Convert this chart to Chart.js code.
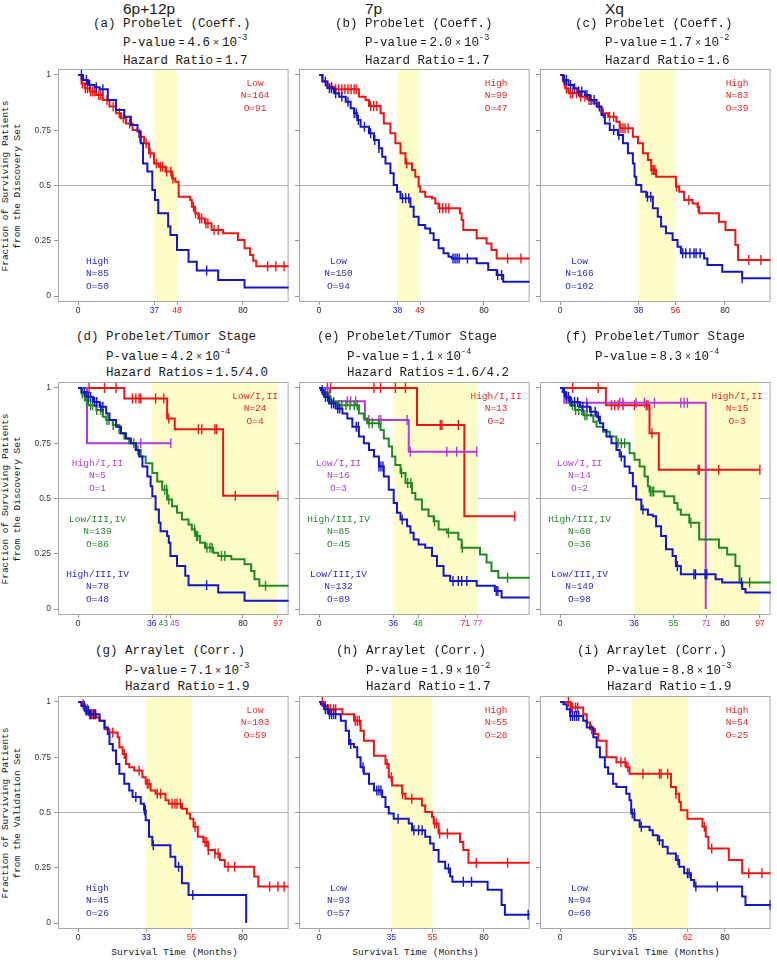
<!DOCTYPE html>
<html><head><meta charset="utf-8">
<script src="https://cdn.jsdelivr.net/npm/chart.js@4.4.1/dist/chart.umd.min.js"></script>
<style>
html,body{margin:0;padding:0;background:#fff}
#root{position:relative;width:777px;height:960px;overflow:hidden;font-family:"Liberation Mono","DejaVu Sans Mono",monospace;color:#1a1a1a}
.t{position:absolute;white-space:nowrap;font-size:12.5px;line-height:13px}
.hd{position:absolute;white-space:nowrap;font-family:"Liberation Sans",Arial,sans-serif;font-size:15.5px;line-height:16px}
.eq{font-size:10px;margin:0 3px}
.t sup{font-size:8.5px;vertical-align:baseline;position:relative;top:-6px;line-height:0}
.yt{position:absolute;font-size:9.5px;line-height:12px;text-align:center;white-space:nowrap;transform:translate(-50%,-50%) rotate(-90deg)}
.xt{position:absolute;font-size:9.6px;line-height:12px;white-space:nowrap;transform:translateX(-50%)}
canvas{position:absolute}
</style></head><body><div id="root"></div>
<script>
// ================= DATA =================
const colHeaders = ['6p+12p', '7p', 'Xq'];
const yTickValues = [0, 0.25, 0.5, 0.75, 1];
const yTickLabels = ['0', '0.25', '0.5', '0.75', '1'];

// (a) 6p+12p probelet
const aTitle = '(a) Probelet (Coeff.)';
const aPValue = ['4.6', '-3']; const aHazard = '1.7';
const aBand = [37, 48]; const aTicks = [0, 37, 48, 80];
const aLow = [[0,1],[1.6,0.962],[3.2,0.94],[5.6,0.925],[8.8,0.91],[12,0.887],[15.2,0.857],[18.4,0.827],[20.8,0.804],[23.2,0.781],[26.4,0.751],[29.6,0.721],[32,0.691],[34.4,0.646],[36.8,0.6],[39.2,0.585],[42.4,0.563],[45.6,0.532],[47.2,0.517],[48.8,0.449],[54.4,0.434],[55.2,0.404],[56.8,0.374],[58.4,0.351],[61.6,0.329],[64.8,0.299],[70.4,0.284],[77.6,0.253],[80.8,0.216],[83.5,0.185],[85,0.16],[86.5,0.135],[104,0.135]];
const aLowCens = [2,3.5,4.5,6,7,8,10,11,14,17,20,22,25,30,33,35,38,40,41,43,45,46,56,57,59,60,62,63,66,68,92,96,100];
const aLowLabel = ['Low','N=164','O=91'];
const aHigh = [[0,1],[2.4,0.977],[4.8,0.955],[8,0.944],[10.4,0.935],[14.4,0.887],[18.4,0.842],[22.4,0.811],[25.6,0.774],[28.8,0.744],[30.4,0.691],[31.5,0.6],[33.6,0.563],[36,0.48],[37.3,0.434],[38.9,0.374],[43.7,0.314],[44.8,0.276],[48,0.208],[53.6,0.155],[57.6,0.115],[68,0.072],[80.8,0.039],[104,0.039]];
const aHighCens = [1.6,4,5.6,8.8,12,62.4];
const aHighLabel = ['High','N=85','O=50'];

// (b) 7p probelet
const bTitle = '(b) Probelet (Coeff.)';
const bPValue = ['2.0', '-3']; const bHazard = '1.7';
const bBand = [38, 49]; const bTicks = [0, 38, 49, 80];
const bHigh = [[0,1],[1.6,0.97],[4,0.947],[7.2,0.935],[19.3,0.902],[22.5,0.887],[24.2,0.86],[29.8,0.827],[31.4,0.781],[34.6,0.736],[37,0.691],[39.5,0.646],[41.9,0.6],[45.1,0.57],[46.7,0.54],[48.3,0.495],[49.1,0.472],[51.5,0.449],[54.8,0.442],[56.4,0.419],[58,0.397],[68.4,0.374],[69.2,0.344],[70,0.299],[76.5,0.261],[81.3,0.238],[83.7,0.208],[86.2,0.17],[104,0.17]];
const bHighCens = [6,8,9.5,11,12.5,14,15.5,17,18,25,26.5,28,42.5,58.5,60,61.5,63,91.5,98];
const bHighLabel = ['High','N=99','O=47'];
const bLow = [[0,1],[1.6,0.97],[4,0.94],[7.2,0.917],[9.7,0.902],[12.9,0.879],[15.3,0.849],[16.9,0.827],[18.5,0.796],[20.1,0.766],[24.2,0.736],[26.6,0.706],[29,0.668],[30.6,0.63],[32.2,0.6],[34.6,0.555],[36.2,0.502],[37.8,0.472],[39.5,0.442],[44.3,0.404],[45.9,0.359],[48.3,0.321],[51.5,0.306],[53.9,0.284],[55.6,0.253],[58,0.216],[60.4,0.193],[62.8,0.178],[64.4,0.17],[76.5,0.148],[82.1,0.118],[86.2,0.095],[89.4,0.065],[104,0.065]];
const bLowCens = [3,5,6,8,11,14,17,18,19,22,25,27,29,40.5,42,43.5,65,66,67,68,72,86.7,88.6];
const bLowLabel = ['Low','N=150','O=94'];

// (c) Xq probelet
const cTitle = '(c) Probelet (Coeff.)';
const cPValue = ['1.7', '-2']; const cHazard = '1.6';
const cBand = [38, 56]; const cTicks = [0, 38, 56, 80];
const cHigh = [[0,1],[1.3,0.97],[2.4,0.94],[4,0.917],[9.6,0.902],[13.7,0.887],[16.1,0.872],[18.5,0.854],[20.1,0.827],[23.3,0.811],[27.3,0.789],[28.9,0.759],[35.3,0.721],[37.8,0.691],[40.2,0.646],[42.6,0.615],[44.2,0.57],[46.6,0.54],[56.2,0.495],[57.8,0.472],[60.2,0.434],[64.3,0.419],[66.7,0.404],[67.5,0.374],[77.1,0.336],[80.3,0.299],[85.1,0.231],[86.4,0.163],[104,0.163]];
const cHighCens = [2,3,5,6,8,10,12,14,20.9,24,26,29.5,30.5,31.5,33,44.6,45.4,46,56.5,62.5,67,91.6,97.5];
const cHighLabel = ['High','N=83','O=39'];
const cLow = [[0,1],[1.6,0.977],[4,0.955],[6.4,0.94],[8.8,0.925],[12,0.91],[14.5,0.887],[17.7,0.857],[20.1,0.819],[21.7,0.781],[24.1,0.751],[28.1,0.729],[30.5,0.691],[32.9,0.646],[35.3,0.6],[36.1,0.54],[36.9,0.502],[39.4,0.472],[41.8,0.449],[45,0.397],[47.4,0.359],[49,0.314],[51.4,0.284],[54.6,0.253],[57,0.223],[58.6,0.193],[69.9,0.17],[71.5,0.14],[78.7,0.11],[88.4,0.08],[104,0.08]];
const cLowCens = [2,3,5,7,9,10.5,13,15,16.5,19,26,28.5,42.4,44,59.5,61,63,65,66,68,88.4];
const cLowLabel = ['Low','N=166','O=102'];

// (d) 6p+12p probelet / tumor stage
const dTitle = '(d) Probelet/Tumor Stage';
const dPValue = ['4.2', '-4']; const dHazard = '1.5/4.0';
const dBand = [36, 97]; const dTicks = [0, 36, 43, 45, 80, 97];
const dLowEarly = [[0,1],[22.4,0.952],[43.2,0.862],[46.9,0.813],[70.4,0.513],[97,0.513]];
const dLowEarlyCens = [5.3,12.8,18.4,26.4,28,29.6,30.4,37.6,41.6,44,58.4,60,66.4,67.2,76.3,97];
const dLowEarlyLabel = ['Low/I,II','N=24','O=4'];
const dHighEarly = [[0,1],[4.3,0.75],[45,0.75]];
const dHighEarlyCens = [30.4,45];
const dHighEarlyLabel = ['High/I,II','N=5','O=1'];
const dLowLate = [[0,1],[1.6,0.975],[3.2,0.945],[4.8,0.922],[8.8,0.9],[12,0.87],[13.6,0.855],[16.8,0.832],[20,0.795],[22.4,0.772],[24.8,0.75],[28,0.72],[30.4,0.69],[32.8,0.66],[36,0.615],[38.4,0.577],[40.8,0.54],[43.2,0.495],[45.6,0.465],[48,0.435],[50.4,0.405],[53.6,0.382],[55.2,0.36],[56.8,0.33],[59.2,0.3],[61.6,0.277],[65.6,0.255],[68,0.24],[74.4,0.225],[80.8,0.202],[84,0.172],[85.6,0.135],[88,0.105],[104,0.105]];
const dLowLateCens = [2,4,6,7,9,11,14,15,17,27,29,42,43,44,56.5,57.5,58,62.5,64,65,69.6,71.2,91];
const dLowLateLabel = ['Low/III,IV','N=139','O=86'];
const dHighLate = [[0,1],[1.6,0.982],[4,0.96],[7.2,0.937],[10.4,0.915],[13.6,0.885],[15.2,0.855],[18.4,0.825],[20.8,0.795],[23.2,0.772],[25.6,0.75],[28,0.72],[29.6,0.69],[31.2,0.645],[33.6,0.6],[35.2,0.555],[36,0.51],[37.6,0.45],[39.2,0.39],[40,0.352],[43.2,0.33],[44,0.3],[44.8,0.24],[48,0.195],[52,0.15],[53.6,0.108],[68,0.075],[80.8,0.037],[104,0.037]];
const dHighLateCens = [3,5,6,8,9,11,12,62.4];
const dHighLateLabel = ['High/III,IV','N=78','O=48'];

// (e) 7p probelet / tumor stage
const eTitle = '(e) Probelet/Tumor Stage';
const ePValue = ['1.1', '-4']; const eHazard = '1.6/4.2';
const eBand = [36, 77]; const eTicks = [0, 36, 48, 71, 77];
const eHighEarly = [[0,1],[47.5,0.832],[70.5,0.42],[95,0.42]];
const eHighEarlyCens = [4,5.6,26.6,29.8,37,41.9,58.8,59.6,67.6,95];
const eHighEarlyLabel = ['High/I,II','N=13','O=2'];
const eLowEarly = [[0,1],[5,0.94],[22.2,0.855],[43.5,0.712],[76.5,0.712]];
const eLowEarlyCens = [13.7,15.3,17.7,24,29,30,42.7,44.3,62,66.8,76.5];
const eLowEarlyLabel = ['Low/I,II','N=16','O=3'];
const eHighLate = [[0,1],[1.3,0.982],[3.2,0.96],[5.6,0.937],[8.9,0.922],[19.3,0.885],[21.7,0.862],[23.3,0.84],[29.8,0.81],[31.4,0.772],[33.8,0.735],[35.4,0.69],[37,0.652],[39.5,0.615],[41.9,0.57],[45.1,0.525],[46.7,0.495],[49.9,0.45],[53.1,0.42],[55.6,0.397],[58,0.36],[62,0.345],[67.6,0.315],[69.2,0.277],[78.1,0.247],[81.3,0.21],[83.7,0.172],[87,0.142],[104,0.142]];
const eHighLateCens = [3,4.5,7,9.5,11,13,15,17,18.5,24.2,25.8,29,40,43,44.5,56,62.8,69.5,91.5];
const eHighLateLabel = ['High/III,IV','N=85','O=45'];
const eLowLate = [[0,1],[0.8,0.99],[2.4,0.96],[4.8,0.93],[8,0.907],[11.3,0.885],[13.7,0.862],[16.1,0.825],[19.3,0.78],[21.7,0.75],[24.2,0.72],[26.6,0.69],[29,0.645],[31.4,0.6],[33.8,0.54],[36.2,0.48],[37.8,0.435],[39.5,0.405],[42.7,0.375],[44.3,0.345],[45.9,0.315],[48.3,0.292],[51.5,0.277],[54.8,0.24],[57.2,0.195],[60.4,0.15],[63.6,0.127],[76.5,0.105],[85.3,0.082],[88.6,0.052],[104,0.052]];
const eLowLateCens = [1.5,3,4,6,7,9,10,18,19,29,30,31,40.3,65,67.6,69.2,71.7,86,86.8];
const eLowLateLabel = ['Low/III,IV','N=132','O=89'];

// (f) Xq probelet / tumor stage
const fTitle = '(f) Probelet/Tumor Stage';
const fPValue = ['8.3', '-4'];
const fBand = [36, 97]; const fTicks = [0, 36, 55, 71, 80, 97];
const fHighEarly = [[0,1],[22.2,0.922],[43.4,0.795],[47.9,0.63],[97,0.63]];
const fHighEarlyCens = [6.1,18.5,24.9,26.5,28.1,30.5,36.1,41.8,42.6,44.6,67,67.6,77,97];
const fHighEarlyLabel = ['High/I,II','N=15','O=3'];
const fLowEarly = [[0,1],[2,0.933],[70.7,0]];
const fLowEarlyCens = [12.9,28.9,30.5,36.9,40.9,45.8,58.6,60.2,61.8];
const fLowEarlyLabel = ['Low/I,II','N=14','O=2'];
const fHighLate = [[0,1],[1.3,0.982],[2.9,0.952],[4.8,0.922],[7.2,0.9],[11.2,0.877],[16.1,0.847],[17.7,0.825],[20.9,0.802],[24.1,0.78],[27.3,0.75],[33.7,0.705],[36.1,0.675],[38.6,0.645],[41,0.6],[42.6,0.555],[43.4,0.532],[50.6,0.51],[55.4,0.48],[57,0.45],[58.6,0.427],[62.7,0.39],[67.5,0.315],[77.1,0.277],[81.1,0.247],[85.1,0.195],[87.1,0.12],[104,0.12]];
const fHighLateCens = [4,6,7.5,9,10.5,12,13,28.1,29.7,31.3,43.8,44.6,45.4,63.5,92];
const fHighLateLabel = ['High/III,IV','N=68','O=36'];
const fLowLate = [[0,1],[1.3,0.982],[2.4,0.96],[4.8,0.937],[9.6,0.915],[14.5,0.892],[17.7,0.87],[19.3,0.84],[20.9,0.81],[22.5,0.78],[24.9,0.75],[27.3,0.72],[28.9,0.69],[31.3,0.645],[33.7,0.615],[35.3,0.555],[36.9,0.495],[39.4,0.45],[42.6,0.427],[45,0.42],[46.6,0.375],[49,0.33],[51.4,0.27],[54.6,0.24],[56.2,0.195],[58.6,0.157],[75.5,0.135],[78.7,0.12],[88.4,0.09],[90,0.075],[104,0.075]];
const fLowLateCens = [2,3,4,5.5,7,8.5,11,13,15,17,18.5,29.7,40.2,56.9,65,65.7,70.4,71.2,88.1];
const fLowLateLabel = ['Low/III,IV','N=149','O=98'];

// (g) 6p+12p arraylet
const gTitle = '(g) Arraylet (Corr.)';
const gPValue = ['7.1', '-3']; const gHazard = '1.9';
const gBand = [33, 55]; const gTicks = [0, 33, 55, 80];
const gLow = [[0,1],[1.6,0.99],[3.2,0.967],[4.8,0.945],[8.8,0.93],[10.4,0.915],[12.8,0.877],[15.2,0.862],[19.2,0.84],[20,0.795],[21.6,0.765],[23.2,0.72],[24.8,0.705],[27.2,0.69],[31.2,0.66],[32.8,0.63],[35.2,0.6],[37.6,0.585],[42.4,0.555],[44,0.54],[50.4,0.517],[52.8,0.495],[54.4,0.472],[56,0.435],[58.1,0.39],[60.8,0.367],[63.2,0.33],[66.4,0.315],[68.8,0.285],[71.2,0.255],[85.5,0.21],[87.5,0.165],[104,0.165]];
const gLowCens = [2.4,3.5,4.5,5.5,6.5,7.2,8,16.8,22.4,29.6,33.6,34.4,38.4,40,45.6,47,48,49.6,56.8,61.6,62.4,63.2,66.4,68,72.8,76,93,97,100];
const gLowLabel = ['Low','N=103','O=59'];
const gHigh = [[0,1],[1.6,0.982],[3.2,0.96],[5.6,0.945],[10.4,0.915],[12.8,0.885],[14.4,0.855],[15.2,0.81],[16.8,0.78],[18.4,0.72],[20,0.675],[22.4,0.63],[24.8,0.6],[26.4,0.57],[30.4,0.54],[32,0.51],[32.8,0.465],[34.4,0.39],[36,0.352],[44.8,0.3],[47.2,0.255],[50.4,0.18],[53.6,0.127],[81.6,0]];
const gHighCens = [3,4,5,6,7.5,8.5,28,32.2,32.6,36.5,48.8,55.7];
const gHighLabel = ['High','N=45','O=26'];

// (h) 7p arraylet
const hTitle = '(h) Arraylet (Corr.)';
const hPValue = ['1.9', '-2']; const hHazard = '1.7';
const hBand = [35, 55]; const hTicks = [0, 35, 55, 80];
const hHigh = [[0,1],[2.4,0.982],[4,0.967],[11.3,0.945],[16.9,0.915],[20.1,0.87],[21.7,0.825],[26.6,0.757],[32.2,0.72],[33.8,0.66],[35.4,0.622],[40.3,0.585],[41.9,0.562],[49.9,0.532],[51.5,0.502],[54.8,0.48],[55.6,0.45],[58,0.405],[68.4,0.367],[70,0.33],[72.5,0.273],[104,0.273]];
const hHighCens = [1.5,3,4.5,5.5,7,8,17.5,18.5,19.5,33,35,40.5,45,56,57,58.5,62.3,76.3,91.5];
const hHighLabel = ['High','N=55','O=28'];
const hLow = [[0,1],[0.8,0.99],[2.4,0.967],[4.8,0.945],[10.5,0.915],[12.9,0.87],[14.5,0.81],[16.9,0.795],[18.5,0.75],[20.1,0.705],[21.7,0.675],[24.2,0.63],[26.6,0.6],[30.6,0.57],[32.2,0.525],[33.8,0.495],[36.2,0.472],[43.5,0.45],[45.1,0.42],[51.5,0.39],[53.9,0.36],[55.6,0.33],[58,0.277],[61.2,0.247],[63.6,0.21],[64.7,0.187],[81.8,0.15],[88.6,0.082],[90.2,0.037],[104,0.037]];
const hLowCens = [3,4,5,6,7,8,15.3,21.3,28,29,30,38.3,46,48.3,50,62.8,70,74,101.5];
const hLowLabel = ['Low','N=93','O=57'];

// (i) Xq arraylet
const iTitle = '(i) Arraylet (Corr.)';
const iPValue = ['8.8', '-3']; const iHazard = '1.9';
const iBand = [35, 62]; const iTicks = [0, 35, 62, 80];
const iHigh = [[0,1],[5,0.975],[11.2,0.945],[12.9,0.907],[14.5,0.877],[16.9,0.855],[18.5,0.825],[22.5,0.75],[27.3,0.727],[32.1,0.705],[33.7,0.675],[53.8,0.615],[56.2,0.585],[57.8,0.547],[58.6,0.51],[61.8,0.472],[69.1,0.435],[70.7,0.39],[72,0.337],[81.9,0.285],[88.4,0.225],[104,0.225]];
const iHighCens = [4,5.5,6,7.5,8.5,15.3,29.5,31.5,32.9,40.2,48.2,49,52.2,56.2,70,73.6,91.6,98];
const iHighLabel = ['High','N=54','O=25'];
const iLow = [[0,1],[1.6,0.99],[3.2,0.967],[4.8,0.937],[11.2,0.915],[12.9,0.885],[16.1,0.84],[17.7,0.795],[19.3,0.75],[21.7,0.705],[23.3,0.675],[25.7,0.63],[27.3,0.615],[32.1,0.585],[33.7,0.555],[34.5,0.495],[36.1,0.465],[38.6,0.435],[43.4,0.42],[45,0.397],[47.4,0.375],[49.8,0.345],[52.2,0.315],[56.2,0.285],[57.8,0.255],[60.2,0.225],[63.5,0.195],[65.1,0.165],[88.4,0.12],[90,0.082],[104,0.082]];
const iLowCens = [5,6,7,8,9,35,36,39.4,48.2,57.2,61.8,62.6,65.9,76.3,102];
const iLowLabel = ['Low','N=94','O=60'];

const yTitleTop = 'Fraction of Surviving Patients';
const yTitleSets = ['from the Discovery Set', 'from the Discovery Set', 'from the Validation Set'];
const xTitle = 'Survival Time (Months)';

// ================= STYLE / LAYOUT =================
const RED = '#ee1414', BLUE = '#1414c8', GREEN = '#208a20', PURPLE = '#b438dc', INK = '#222';
const TXT = {[RED]:'#e82828', [BLUE]:'#2c2cc8', [GREEN]:'#288a28', [PURPLE]:'#b040d8'};
const YELLOW = '#fdfdc8', FRAME = '#a8a8a8', GRID = '#b4b4b4';
const colLeft = [58, 299, 540], rowTop = [69, 382, 696], FW = 233, FH = 233;
const titleY = [25, 338, 652], pY = [44, 358, 672], hY = [62, 374, 688];
const X_MIN = -9.8, X_MAX = 102.2, Y_MIN = -0.0271, Y_MAX = 1.0271;

const panels = [
 {col:0,row:0,title:aTitle,pv:aPValue,hr:aHazard,hrName:'Hazard Ratio',tl:93,band:aBand,ticks:aTicks,tc:{37:BLUE,48:RED},
  curves:[{d:aLow,c:aLowCens,col:RED,lab:aLowLabel,pos:'tr'},{d:aHigh,c:aHighCens,col:BLUE,lab:aHighLabel,pos:'bl'}]},
 {col:1,row:0,title:bTitle,pv:bPValue,hr:bHazard,hrName:'Hazard Ratio',tl:335,band:bBand,ticks:bTicks,tc:{38:BLUE,49:RED},
  curves:[{d:bHigh,c:bHighCens,col:RED,lab:bHighLabel,pos:'tr'},{d:bLow,c:bLowCens,col:BLUE,lab:bLowLabel,pos:'bl'}]},
 {col:2,row:0,title:cTitle,pv:cPValue,hr:cHazard,hrName:'Hazard Ratio',tl:575,band:cBand,ticks:cTicks,tc:{38:BLUE,56:RED},
  curves:[{d:cHigh,c:cHighCens,col:RED,lab:cHighLabel,pos:'tr'},{d:cLow,c:cLowCens,col:BLUE,lab:cLowLabel,pos:'bl'}]},
 {col:0,row:1,title:dTitle,pv:dPValue,hr:dHazard,hrName:'Hazard Ratios',tl:76,band:dBand,ticks:dTicks,tc:{36:BLUE,43:GREEN,45:PURPLE,97:RED},
  curves:[{d:dLowEarly,c:dLowEarlyCens,col:RED,lab:dLowEarlyLabel,pos:'tr'},{d:dHighEarly,c:dHighEarlyCens,col:PURPLE,lab:dHighEarlyLabel,pos:'l1'},
          {d:dLowLate,c:dLowLateCens,col:GREEN,lab:dLowLateLabel,pos:'l2'},{d:dHighLate,c:dHighLateCens,col:BLUE,lab:dHighLateLabel,pos:'bl'}]},
 {col:1,row:1,title:eTitle,pv:ePValue,hr:eHazard,hrName:'Hazard Ratios',tl:317,band:eBand,ticks:eTicks,tc:{36:BLUE,48:GREEN,71:RED,77:PURPLE},
  curves:[{d:eHighEarly,c:eHighEarlyCens,col:RED,lab:eHighEarlyLabel,pos:'tr'},{d:eLowEarly,c:eLowEarlyCens,col:PURPLE,lab:eLowEarlyLabel,pos:'l1'},
          {d:eHighLate,c:eHighLateCens,col:GREEN,lab:eHighLateLabel,pos:'l2'},{d:eLowLate,c:eLowLateCens,col:BLUE,lab:eLowLateLabel,pos:'bl'}]},
 {col:2,row:1,title:fTitle,pv:fPValue,hr:null,tl:565,band:fBand,ticks:fTicks,tc:{36:BLUE,55:GREEN,71:PURPLE,97:RED},
  curves:[{d:fHighEarly,c:fHighEarlyCens,col:RED,lab:fHighEarlyLabel,pos:'tr'},{d:fLowEarly,c:fLowEarlyCens,col:PURPLE,lab:fLowEarlyLabel,pos:'l1'},
          {d:fHighLate,c:fHighLateCens,col:GREEN,lab:fHighLateLabel,pos:'l2'},{d:fLowLate,c:fLowLateCens,col:BLUE,lab:fLowLateLabel,pos:'bl'}]},
 {col:0,row:2,title:gTitle,pv:gPValue,hr:gHazard,hrName:'Hazard Ratio',tl:95,band:gBand,ticks:gTicks,tc:{33:BLUE,55:RED},
  curves:[{d:gLow,c:gLowCens,col:RED,lab:gLowLabel,pos:'tr'},{d:gHigh,c:gHighCens,col:BLUE,lab:gHighLabel,pos:'bl'}]},
 {col:1,row:2,title:hTitle,pv:hPValue,hr:hHazard,hrName:'Hazard Ratio',tl:336,band:hBand,ticks:hTicks,tc:{35:BLUE,55:RED},
  curves:[{d:hHigh,c:hHighCens,col:RED,lab:hHighLabel,pos:'tr'},{d:hLow,c:hLowCens,col:BLUE,lab:hLowLabel,pos:'bl'}]},
 {col:2,row:2,title:iTitle,pv:iPValue,hr:iHazard,hrName:'Hazard Ratio',tl:577,band:iBand,ticks:iTicks,tc:{35:BLUE,62:RED},
  curves:[{d:iHigh,c:iHighCens,col:RED,lab:iHighLabel,pos:'tr'},{d:iLow,c:iLowCens,col:BLUE,lab:iLowLabel,pos:'bl'}]},
];

const root = document.getElementById('root');
function addDiv(cls, html, left, top){
  const d = document.createElement('div'); d.className = cls; d.innerHTML = html;
  d.style.left = left + 'px'; d.style.top = top + 'px'; root.appendChild(d); return d;
}
function survAt(curve, t){ let s = curve[0][1]; for (const [tt, ss] of curve){ if (tt <= t) s = ss; else break; } return s; }

function labelLines(pos, a){
  const lh = 12.6;
  if (pos === 'tr') return {x: a.right - 33.5, ys: [a.top + 14, a.top + 14 + lh, a.top + 14 + 2*lh]};
  if (pos === 'l1') return {x: a.left + 39.5, ys: [a.top + 81, a.top + 81 + lh, a.top + 81 + 2*lh]};
  if (pos === 'l2') return {x: a.left + 39.5, ys: [a.top + 137, a.top + 137 + lh, a.top + 137 + 2*lh]};
  return {x: a.left + 39.5, ys: [a.bottom - 41, a.bottom - 41 + lh, a.bottom - 41 + 2*lh]};
}

function makeDeco(p){
  return {
    id: 'deco',
    beforeDatasetsDraw(chart){
      const {ctx, chartArea: a, scales: {x}} = chart;
      ctx.save();
      const x1 = x.getPixelForValue(p.band[0]), x2 = x.getPixelForValue(p.band[1]);
      ctx.fillStyle = YELLOW; ctx.fillRect(x1, a.top, x2 - x1, a.bottom - a.top);
      ctx.strokeStyle = FRAME; ctx.lineWidth = 1;
      ctx.strokeRect(a.left + 0.5, a.top + 0.5, a.right - a.left - 1, a.bottom - a.top - 1);
      // x tick labels (spread apart when crowded)
      ctx.font = '8.5px "Liberation Sans", Arial, sans-serif';
      ctx.textAlign = 'center'; ctx.textBaseline = 'middle';
      const items = p.ticks.map(v => ({v, x: x.getPixelForValue(v), w: ctx.measureText(String(v)).width}));
      for (let it = 0; it < 6; it++) for (let i = 1; i < items.length; i++){
        const A = items[i-1], B = items[i];
        const ov = (A.x + A.w/2 + 2) - (B.x - B.w/2);
        if (ov > 0){ A.x -= ov/2; B.x += ov/2; }
      }
      for (const it of items){ ctx.fillStyle = p.tc[it.v] || INK; ctx.fillText(String(it.v), it.x, a.bottom + 9); }
      ctx.restore();
    },
    afterDatasetsDraw(chart){
      const {ctx, chartArea: a} = chart;
      ctx.save();
      ctx.font = '9.5px "Liberation Mono", monospace';
      ctx.textAlign = 'center'; ctx.textBaseline = 'middle';
      for (const c of p.curves){
        const L = labelLines(c.pos, a);
        ctx.fillStyle = TXT[c.col];
        c.lab.forEach((s, k) => ctx.fillText(s, L.x, L.ys[k]));
      }
      ctx.restore();
    }
  };
}

panels.forEach(p => {
  const fl = colLeft[p.col], ft = rowTop[p.row];
  // titles
  if (p.row === 0) addDiv('hd', colHeaders[p.col], p.tl + 30, 1);
  addDiv('t', p.title, p.tl, titleY[p.row] - 7);
  addDiv('t', 'P-value<span class="eq">=</span>' + p.pv[0] + '<span class="eq">×</span>10<sup>' + p.pv[1] + '</sup>', p.tl + 30, pY[p.row] - 7);
  if (p.hr) addDiv('t', p.hrName + '<span class="eq">=</span>' + p.hr, p.tl + 30, hY[p.row] - 7);
  if (p.col === 0) addDiv('yt', yTitleTop + '<br>' + yTitleSets[p.row], 12, ft + FH/2);
  if (p.row === 2) addDiv('xt', xTitle, fl + FW/2, 947);

  const axisW = p.col === 0 ? 58 : 8, padTop = 10, xAxisH = 20;
  const cv = document.createElement('canvas');
  const W = axisW + FW + 4, H = padTop + FH + xAxisH;
  cv.width = W; cv.height = H; cv.style.width = W + 'px'; cv.style.height = H + 'px';
  cv.style.left = (fl - axisW) + 'px'; cv.style.top = (ft - padTop) + 'px';
  root.appendChild(cv);

  const datasets = [];
  p.curves.slice().reverse().forEach(c => {
    datasets.push({data: c.d.map(([x, y]) => ({x, y})), borderColor: c.col, backgroundColor: c.col, borderWidth: 2,
      stepped: true, pointRadius: 0, fill: false, tension: 0});
    datasets.push({data: c.c.map(t => ({x: t, y: survAt(c.d, t)})), showLine: false, pointStyle: 'line', rotation: 90,
      pointRadius: 5, pointBorderWidth: 1.4, borderColor: c.col, backgroundColor: c.col});
  });

  new Chart(cv, {
    type: 'line',
    data: {datasets},
    options: {
      responsive: false, animation: false, devicePixelRatio: 1, events: [],
      layout: {padding: {top: padTop, right: 4, left: 0, bottom: 0}},
      plugins: {legend: {display: false}, tooltip: {enabled: false}, title: {display: false}},
      scales: {
        x: {type: 'linear', min: X_MIN, max: X_MAX,
          afterBuildTicks: ax => { ax.ticks = p.ticks.map(v => ({value: v})); },
          ticks: {display: false},
          grid: {drawOnChartArea: false, drawTicks: true, tickLength: 3, tickColor: '#999', color: '#999'},
          border: {display: false},
          afterFit: ax => { ax.height = xAxisH; }},
        y: {type: 'linear', min: Y_MIN, max: Y_MAX,
          afterBuildTicks: ax => { ax.ticks = yTickValues.map(v => ({value: v})); },
          ticks: {display: p.col === 0, padding: 3, color: '#333',
            font: {family: '"Liberation Sans", Arial, sans-serif', size: 8.5},
            callback: v => yTickLabels[yTickValues.indexOf(v)]},
          grid: {drawOnChartArea: true, drawTicks: true, tickLength: 4, tickColor: '#999',
            color: c => (c.tick && c.tick.value === 0.5) ? GRID : 'rgba(0,0,0,0)'},
          border: {display: false},
          afterFit: ax => { ax.width = axisW; }}
      }
    },
    plugins: [makeDeco(p)]
  });
});
</script></body></html>
